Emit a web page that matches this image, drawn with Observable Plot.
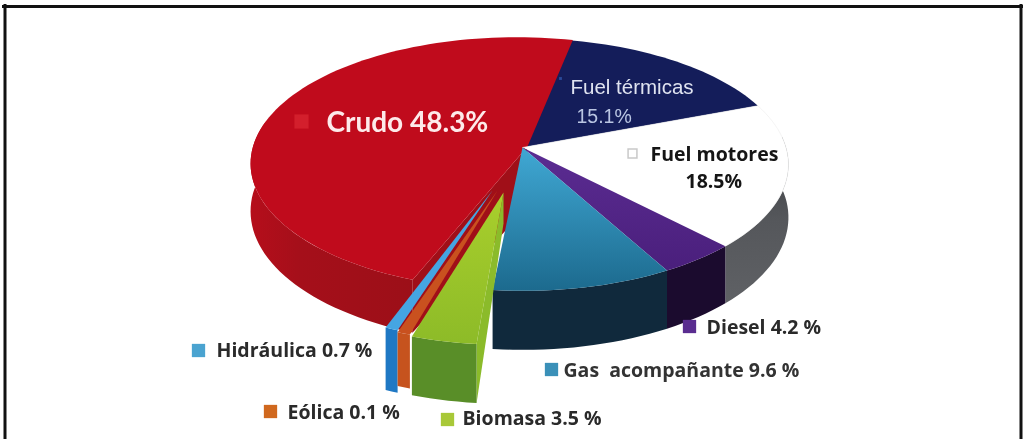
<!DOCTYPE html>
<html>
<head>
<meta charset="utf-8">
<script src="https://cdn.jsdelivr.net/npm/d3@7"></script>
<script src="https://cdn.jsdelivr.net/npm/@observablehq/plot@0.6"></script>
<style>
html,body{margin:0;padding:0;background:#fff}
svg{display:block}
g[aria-label="line"],g[aria-label="text"],g[aria-label="dot"]{filter:blur(0.55px)}
</style>
</head>
<body>
<div id="chart"></div>
<script>
// Data (percent of the energy mix), clockwise from the top.
const names = ["Fuel térmicas", "Fuel motores", "Diesel", "Gas acompañante", "Biomasa", "Eólica", "Hidráulica", "Crudo"];
const labelled = [15.1, 18.5, 4.2, 9.6, 3.5, 0.1, 0.7, 48.3];
// Sweep of each slice as drawn: Eólica is drawn far wider than its 0.1 label.
const drawnShare = [15.1, 18.5, 4.2, 9.6, 3.5, 0.7, 0.7, 48.3];

// Perspective disc layout
const W = 1023, H = 439;
const disc = {x0: 522, y0: 147, rx: 263.5, ry: 124, k: 0.135, start: 15, crudoEnd: 374};
const explode = {
  "Crudo": {ex: -6, ey: -1, tx: 11, ty: 0, wall: 0.9},
  "Biomasa": {ex: -16, ey: 54, tx: -3, ty: -9, wall: 1},
  "Eólica": {ex: -18, ey: 52, tx: -7, ty: -9, wall: 0.92},
  "Hidráulica": {ex: -18, ey: 50, tx: -12, ty: -7, wall: 1.07}
};
const rad = (d) => (d * Math.PI) / 180;
function rim(t, o = {ex: 0, ey: 0}, drop = 0) {
  const u = Math.sin(rad(t)), v = -Math.cos(rad(t)), s = 1 / (1 - disc.k * v);
  return {x: disc.x0 + disc.rx * u * s + o.ex, y: disc.y0 + disc.ry * v * s + o.ey + drop};
}
const depth = (t) => 52 + 7 * Math.max(0, -Math.cos(rad(t)));
function arc(t0, t1, o, dropScale) {
  const n = Math.max(2, Math.ceil(Math.abs(t1 - t0) / 2));
  return d3.range(n + 1).map((i) => {
    const t = t0 + ((t1 - t0) * i) / n;
    return rim(t, o, dropScale ? depth(t) * dropScale : 0);
  });
}
// Angles
const angles = {};
let cursor = disc.start;
names.forEach((n, i) => {
  const sweep = (drawnShare[i] / 100) * 360;
  if (n === "Crudo") angles[n] = [disc.crudoEnd - sweep, disc.crudoEnd];
  else { angles[n] = [cursor, cursor + sweep]; cursor += sweep; }
});
const noX = {ex: 0, ey: 0, tx: 0, ty: 0, wall: 1};
const off = (n) => explode[n] || noX;
const apex = (n, drop = 0) => {
  const o = off(n);
  return {x: disc.x0 + o.ex + o.tx, y: disc.y0 + o.ey + o.ty + drop};
};
const topFace = (n, lead = 0) => { const [a, b] = angles[n]; return [apex(n), ...arc(a - lead, b, off(n))]; };
const wall = (n, a, b) => {
  const o = off(n);
  return [...arc(a, b, o), ...arc(b, a, o, o.wall)];
};

const fills = {
  "Fuel térmicas": "#141d5a", "Fuel motores": "#ffffff", "Diesel": "url(#gDiesel)",
  "Gas acompañante": "url(#gGas)", "Biomasa": "url(#gBio)", "Eólica": "#c9511f",
  "Hidráulica": "#45a5e2", "Crudo": "#c00b1c"
};
const polys = [];
const add = (points, fill, stroke = "none") => polys.push({points, fill, stroke});
const [mo0, mo1] = angles["Fuel motores"], [di0, di1] = angles["Diesel"], [ga0, ga1] = angles["Gas acompañante"];
const [cr0] = angles["Crudo"], [bi0, bi1] = angles["Biomasa"], [eo0, eo1] = angles["Eólica"], [hi0, hi1] = angles["Hidráulica"];

// Navy runs slightly under the Crudo slice so that no gap shows at the seam
add(topFace("Fuel térmicas", 4), fills["Fuel térmicas"]);
// Crudo: cut face, outer wall, top
const cr = off("Crudo");
const crRim = rim(cr0, cr);
add([apex("Crudo"), apex("Crudo", 60), rim(cr0, cr, depth(cr0) * cr.wall), crRim], "#a00f18");
add(wall("Crudo", cr0, 282), "url(#gRedWall)");
add(topFace("Crudo"), fills["Crudo"]);
add(wall("Fuel motores", 85, mo1), "url(#gGray)");
add(topFace("Fuel motores"), fills["Fuel motores"], "#ececec");
add(wall("Diesel", di0, di1), "#1b0b2e");
add(topFace("Diesel"), fills["Diesel"]);
add(wall("Gas acompañante", ga0, ga1), "#10293c");
add(topFace("Gas acompañante"), fills["Gas acompañante"]);
// Hidráulica
add(wall("Hidráulica", hi0, hi1), "#1f78c4");
add(topFace("Hidráulica"), fills["Hidráulica"]);
// Eólica
add(wall("Eólica", eo0, eo1), "#c6531e");
add(topFace("Eólica"), fills["Eólica"]);
// Biomasa: right cut face, front wall, top
const bo = off("Biomasa");
add([apex("Biomasa"), apex("Biomasa", 31), rim(bi0, bo, depth(bi0)), rim(bi0, bo)], "#8bbb2a");
add(wall("Biomasa", bi0, bi1), "#598e28");
add(topFace("Biomasa"), fills["Biomasa"]);

// Labels built from the values
const pct = (n, sep = " ") => `${labelled[names.indexOf(n)].toFixed(1)}${sep}%`;
const labelFont = "Open Sans";
const texts = [
  {t: `Crudo ${pct("Crudo", "")}`, dx: 326, dy: 123, size: 28, color: "#fdeaea", weight: 700, font: "Lato"},
  {t: "Fuel térmicas", dx: 570, dy: 87, size: 20.5, color: "#dfe3f0", weight: 400, font: "Liberation Sans"},
  {t: pct("Fuel térmicas", ""), dx: 576, dy: 116, size: 19.5, color: "#b9c5e2", weight: 400, font: "Liberation Sans"},
  {t: "Fuel motores", dx: 650, dy: 154, size: 19.5, color: "#151515", weight: 700, font: labelFont},
  {t: pct("Fuel motores", ""), dx: 685, dy: 181, size: 19.5, color: "#151515", weight: 700, font: labelFont},
  {t: `Diesel ${pct("Diesel")}`, dx: 706, dy: 327, size: 19.5, color: "#2a2a2a", weight: 700, font: labelFont},
  {t: `Gas  acompañante ${pct("Gas acompañante")}`, dx: 563, dy: 370, size: 19.5, color: "#333", weight: 700, font: labelFont},
  {t: `Hidráulica ${pct("Hidráulica")}`, dx: 216, dy: 350, size: 19.5, color: "#2a2a2a", weight: 700, font: labelFont},
  {t: `Eólica ${pct("Eólica")}`, dx: 287, dy: 412, size: 19.5, color: "#2a2a2a", weight: 700, font: labelFont},
  {t: `Biomasa ${pct("Biomasa")}`, dx: 462, dy: 418, size: 19.5, color: "#2a2a2a", weight: 700, font: labelFont}
];
const swatches = [
  {dx: 301, dy: 121, r: 8, fill: "#d31f2c", stroke: "none"},
  {dx: 560, dy: 78, r: 1.6, fill: "#2a4a9a", stroke: "none"},
  {dx: 632, dy: 153, r: 5, fill: "#ffffff", stroke: "#c9c9c9"},
  {dx: 689, dy: 326, r: 7.5, fill: "#5a2d90", stroke: "none"},
  {dx: 551, dy: 369, r: 7.5, fill: "#3a90b8", stroke: "none"},
  {dx: 198, dy: 350, r: 7.5, fill: "#4aa3d0", stroke: "none"},
  {dx: 270, dy: 411, r: 7.5, fill: "#d0681e", stroke: "none"},
  {dx: 447, dy: 419, r: 7.5, fill: "#a8c838", stroke: "none"}
];

function grad(defs, id, stops, x2 = 0, y2 = 1) {
  const g = defs.append("linearGradient").attr("id", id).attr("x1", 0).attr("y1", 0).attr("x2", x2).attr("y2", y2);
  stops.forEach(([o, c]) => g.append("stop").attr("offset", o).attr("stop-color", c));
}
function defsMark() {
  const svg = d3.create("svg:g");
  const defs = svg.append("defs");
  grad(defs, "gGas", [[0, "#40a8d4"], [1, "#1c6a8e"]]);
  grad(defs, "gDiesel", [[0, "#5b2c92"], [1, "#4a1f7c"]]);
  grad(defs, "gBio", [[0, "#a9cf2c"], [1, "#8dbb28"]]);
  grad(defs, "gGray", [[0, "#3a3c40"], [0.5, "#55575b"], [1, "#5f6165"]], 0, 1);
  grad(defs, "gRedWall", [[0, "#b50e1b"], [0.3, "#a50f1a"], [1, "#9c0f18"]], 1, 0);
  return svg.node();
}

const plot = Plot.plot({
  width: W, height: H,
  margin: 0,
  style: {background: "#fff"},
  x: {domain: [0, W], axis: null},
  y: {domain: [H, 0], axis: null},
  marks: [
    defsMark,
    ...polys.map((p) => Plot.line(p.points, {x: "x", y: "y", fill: p.fill, stroke: p.stroke, strokeWidth: 0.6})),
    ...swatches.map((s) => Plot.dot([0], {frameAnchor: "top-left", dx: s.dx, dy: s.dy, symbol: "square", r: s.r, fill: s.fill, stroke: s.stroke})),
    ...texts.map((l) => Plot.text([l.t], {text: (d) => d, frameAnchor: "top-left", dx: l.dx, dy: l.dy, textAnchor: "start", lineAnchor: "middle", fontSize: l.size, fontWeight: l.weight, fontFamily: l.font, fill: l.color})),
    Plot.frame({anchor: "left", insetLeft: 4.5, insetTop: 5, stroke: "#111", strokeWidth: 3}),
    Plot.frame({anchor: "top", insetTop: 6, insetLeft: 3, insetRight: 1, stroke: "#111", strokeWidth: 3}),
    Plot.frame({anchor: "right", insetRight: 2.5, insetTop: 5, stroke: "#111", strokeWidth: 3})
  ]
});
document.getElementById("chart").appendChild(plot);
</script>
</body>
</html>
